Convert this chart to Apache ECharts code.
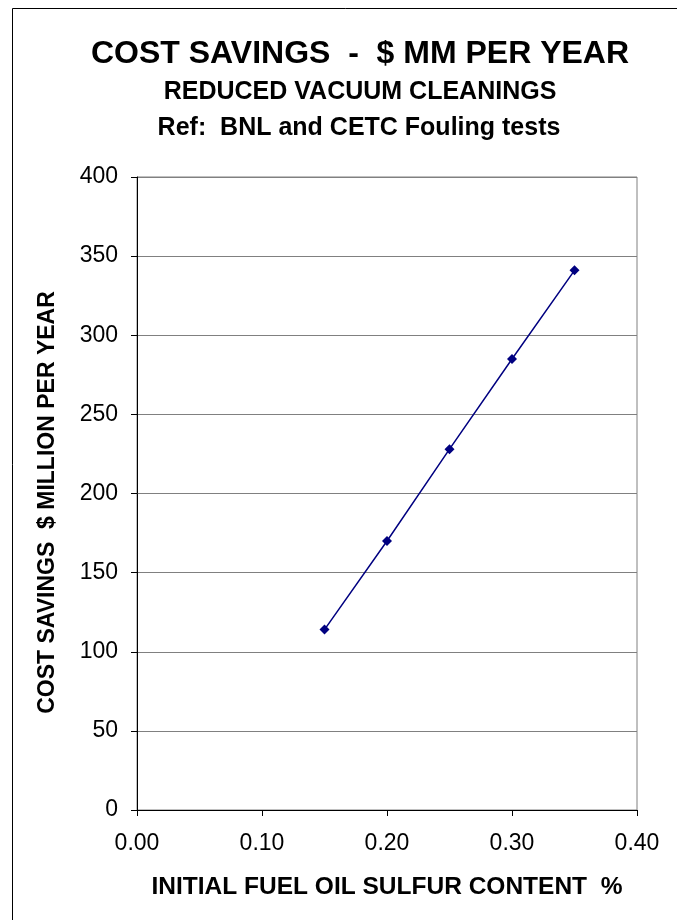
<!DOCTYPE html>
<html><head><meta charset="utf-8">
<script src="https://cdn.jsdelivr.net/npm/echarts@6/dist/echarts.min.js"></script>
<style>html,body{margin:0;padding:0;background:#fff}#c{width:677px;height:920px}</style>
</head><body><div id="c"></div>
<script>
var sulfur = [0.15, 0.20, 0.25, 0.30, 0.35];
var savings = [114, 170, 228, 285, 341];
var titleMain = 'COST SAVINGS  -  $ MM PER YEAR';
var titleSub1 = 'REDUCED VACUUM CLEANINGS';
var titleSub2 = 'Ref:  BNL and CETC Fouling tests';
var xName = 'INITIAL FUEL OIL SULFUR CONTENT  %';
var yName = 'COST SAVINGS  $ MILLION PER YEAR';
var FONT = 'Liberation Sans, Arial, sans-serif';
var chart = echarts.init(document.getElementById('c'));
chart.setOption({
  animation: false,
  backgroundColor: '#fff',
  title: [
    {text: titleMain, left: 355, top: 33, textAlign: 'center',
     textStyle: {fontFamily: FONT, fontSize: 32, fontWeight: 'bold', color: '#000'}},
    {text: titleSub1, left: 355, top: 75, textAlign: 'center',
     textStyle: {fontFamily: FONT, fontSize: 25, fontWeight: 'bold', color: '#000'}},
    {text: titleSub2, left: 354, top: 111, textAlign: 'center',
     textStyle: {fontFamily: FONT, fontSize: 25, fontWeight: 'bold', color: '#000'}}
  ],
  graphic: [{type: 'rect', shape: {x: 12.5, y: 8.5, width: 800, height: 1000},
    style: {fill: 'none', stroke: '#000', lineWidth: 1}, silent: true, z: -1}],
  grid: {left: 137, right: 40, top: 177, bottom: 110, show: true, borderColor: '#808080', borderWidth: 1, backgroundColor: '#fff'},
  xAxis: {
    type: 'value', min: 0, max: 0.4, interval: 0.1,
    name: xName, nameLocation: 'middle', nameGap: 65,
    nameTextStyle: {fontFamily: FONT, fontSize: 24.5, fontWeight: 'bold', color: '#000'},
    axisLine: {show: true, lineStyle: {color: '#000', width: 1}},
    axisTick: {show: true, length: 6, inside: false, lineStyle: {color: '#000'}},
    axisLabel: {fontFamily: FONT, fontSize: 23, color: '#000', margin: 22, formatter: function(v){return v.toFixed(2);}},
    splitLine: {show: false}
  },
  yAxis: {
    type: 'value', min: 0, max: 400, interval: 50,
    name: yName, nameLocation: 'middle', nameGap: 78, nameRotate: 90,
    nameTextStyle: {fontFamily: FONT, fontSize: 23, fontWeight: 'bold', color: '#000', padding: [0, 18, 0, 0]},
    axisLine: {show: true, lineStyle: {color: '#000', width: 1}},
    axisTick: {show: true, length: 6, inside: false, lineStyle: {color: '#000'}},
    axisLabel: {fontFamily: FONT, fontSize: 23, color: '#000', margin: 19},
    splitLine: {show: true, lineStyle: {color: '#808080', width: 1}}
  },
  series: [{
    type: 'line',
    data: sulfur.map(function(x, i){return [x, savings[i]];}),
    symbol: 'diamond', symbolSize: 10,
    lineStyle: {color: '#000080', width: 1.5},
    itemStyle: {color: '#000080'}
  }]
});
</script></body></html>
